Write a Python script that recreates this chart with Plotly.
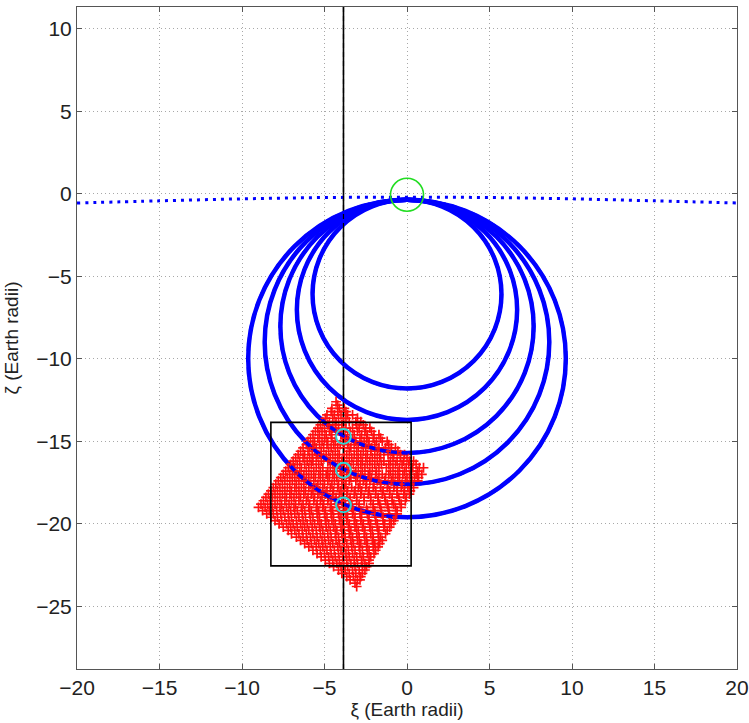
import plotly.graph_objects as go

# ---------------- data ----------------
# blue dotted horizon-like curve
horizon_x = [-20, -15, -10, -5, 0, 5, 10, 15, 20]
horizon_y = [-0.55, -0.42, -0.30, -0.22, -0.20, -0.22, -0.30, -0.42, -0.55]

# blue circles (centred on xi = 0): top and bottom zeta values
circle_top = [-0.35, -0.35, -0.35, -0.35, -0.35]
circle_bottom = [-11.8, -13.7, -15.7, -17.6, -19.6]

# vertical line position
vline_x = -3.85

# black box
box_x = [-8.25, 0.25]
box_y = [-22.55, -13.85]

# green circle
green_center = (0.0, -0.05)
green_radius = 1.0

# cyan circles
cyan_x = [-3.85, -3.85, -3.85]
cyan_y = [-14.7, -16.75, -18.85]
cyan_radius = 0.45

# red cloud, listed row by row (zeta, list of xi)
cloud_rows = [
    (-12.6, [-4.3]),
    (-12.8, [-4.2]),
    (-13.0, [-4.55, -4.1, -3.8]),
    (-13.2, [-4.6, -4.2, -3.7]),
    (-13.4, [-4.85, -4.4, -4.0, -3.6, -3.3]),
    (-13.6, [-4.95, -4.5, -4.15, -3.7, -3.0]),
    (-13.8, [-5.1, -4.7, -4.3, -3.85, -3.5, -3.1, -2.8]),
    (-14.0, [-5.25, -4.8, -4.35, -3.95, -3.05, -2.65]),
    (-14.2, [-5.4, -5.0, -4.5, -4.15, -3.7, -3.3, -2.9, -2.5, -2.25]),
    (-14.4, [-5.55, -5.15, -4.7, -4.3, -3.85, -3.45, -3.0, -2.55, -2.15]),
    (-14.6, [-5.7, -5.3, -4.9, -4.6, -4.0, -3.6, -3.2, -2.75, -2.4, -2.0, -1.7]),
    (-14.8, [-5.85, -5.4, -5.0, -4.55, -3.75, -3.3, -2.85, -2.45, -2.05, -1.6]),
    (-15.0, [-6.0, -5.6, -5.15, -4.8, -4.35, -3.9, -3.55, -3.1, -2.6, -2.3, -1.85, -1.5, -1.2]),
    (-15.2, [-6.1, -5.7, -5.3, -4.85, -4.45, -4.05, -3.6, -3.2, -2.75, -2.35, -1.95, -1.1]),
    (-15.4, [-6.3, -5.9, -5.5, -5.05, -4.6, -4.2, -3.8, -3.4, -2.95, -2.5, -2.15, -1.7, -1.3, -0.95, -0.7]),
    (-15.6, [-6.45, -6.0, -5.6, -5.2, -4.75, -4.35, -3.5, -3.05, -2.65, -2.2, -1.8, -1.4, -0.95, -0.55]),
    (-15.8, [-6.6, -6.2, -5.75, -5.4, -4.9, -4.5, -4.1, -3.65, -3.2, -2.8, -2.4, -1.95, -1.6, -1.15, -0.8, -0.4, -0.15]),
    (-16.0, [-6.75, -6.3, -5.9, -5.5, -5.05, -4.65, -4.2, -3.8, -3.35, -2.95, -2.5, -2.1, -1.65, -0.85, -0.4, 0.0]),
    (-16.2, [-6.9, -6.5, -6.05, -5.7, -5.2, -4.8, -4.35, -3.95, -3.5, -3.05, -2.7, -2.25, -1.8, -1.4, -1.0, -0.6, -0.2, 0.15, 0.4]),
    (-16.4, [-7.05, -6.65, -6.2, -5.8, -5.35, -4.5, -4.1, -3.65, -3.25, -2.8, -2.4, -1.95, -1.55, -1.1, -0.7, -0.3, 0.1, 0.55]),
    (-16.6, [-7.2, -6.8, -6.4, -5.95, -5.5, -5.1, -4.65, -4.25, -3.8, -3.4, -2.95, -2.55, -2.1, -1.7, -1.25, -0.85, -0.45, -0.05, 0.35, 0.75, 1.0]),
    (-16.8, [-7.35, -6.95, -6.5, -6.1, -5.65, -5.25, -4.8, -4.4, -3.95, -3.55, -3.1, -2.7, -2.25, -1.85, -1.0, -0.55, -0.15, 0.25, 0.65]),
    (-17.0, [-7.5, -7.1, -6.65, -6.25, -5.8, -5.35, -4.9, -4.5, -4.05, -3.65, -3.2, -2.8, -2.35, -1.9, -1.5, -1.1, -0.7, -0.25, 0.15, 0.55, 0.9]),
    (-17.2, [-7.65, -7.25, -6.8, -6.4, -5.95, -5.55, -5.1, -4.7, -4.25, -3.85, -3.4, -3.0, -2.55, -2.15, -1.7, -1.3, -0.85, -0.45, 0.0, 0.45, 0.7]),
    (-17.4, [-7.8, -7.4, -6.95, -6.55, -6.1, -5.65, -5.25, -4.8, -4.4, -3.95, -3.5, -3.1, -2.65, -2.25, -1.8, -1.35, -0.95, -0.55, -0.1, 0.3, 0.65]),
    (-17.6, [-7.95, -7.55, -7.1, -6.7, -6.25, -5.85, -5.4, -5.0, -4.55, -4.15, -3.7, -2.85, -2.45, -2.0, -1.6, -1.15, -0.75, -0.3, 0.15]),
    (-17.8, [-8.1, -7.7, -7.25, -6.8, -6.4, -5.95, -5.5, -5.1, -4.65, -4.2, -3.8, -3.35, -2.95, -2.5, -2.05, -1.6, -1.2, -0.8, -0.35, 0.05, 0.4]),
    (-18.0, [-8.25, -7.85, -7.4, -7.0, -6.55, -6.15, -5.7, -5.3, -4.85, -4.45, -4.0, -3.6, -3.15, -2.75, -2.3, -1.9, -1.45, -1.05, -0.6, -0.15, 0.2]),
    (-18.2, [-8.4, -8.0, -7.55, -7.1, -6.7, -6.25, -5.8, -5.4, -4.95, -4.5, -4.1, -3.65, -3.2, -2.8, -2.35, -1.9, -1.5, -1.05, -0.6, -0.2, 0.15]),
    (-18.4, [-8.55, -8.15, -7.7, -7.3, -6.85, -6.45, -6.0, -5.6, -5.15, -4.75, -4.3, -3.9, -3.45, -3.05, -2.6, -2.2, -1.75, -1.35, -0.9, -0.5, -0.05]),
    (-18.6, [-8.7, -8.3, -7.85, -7.4, -7.0, -6.55, -6.1, -5.65, -5.25, -4.8, -4.35, -3.95, -3.5, -3.05, -2.6, -2.2, -1.75, -1.3, -0.9, -0.45, -0.1]),
    (-18.8, [-8.85, -8.45, -8.0, -7.6, -7.15, -6.75, -6.3, -5.9, -5.45, -5.05, -4.6, -4.2, -3.75, -3.35, -2.9, -2.05, -1.65, -1.2, -0.8, -0.35]),
    (-19.0, [-9.0, -8.6, -8.15, -7.7, -7.3, -6.85, -6.4, -5.95, -5.5, -5.1, -4.65, -4.2, -3.8, -3.35, -2.9, -2.45, -2.05, -1.6, -1.15, -0.7, -0.35]),
    (-19.2, [-8.75, -8.35, -7.9, -7.5, -7.05, -6.65, -6.2, -5.8, -5.35, -4.95, -4.5, -4.1, -3.65, -3.25, -2.8, -2.4, -1.95, -1.55, -1.1, -0.6]),
    (-19.4, [-8.5, -8.1, -7.65, -7.2, -6.8, -6.35, -5.9, -5.45, -5.0, -4.6, -4.15, -3.7, -3.3, -2.85, -2.4, -1.95, -1.55, -1.1, -0.6]),
    (-19.6, [-8.25, -7.85, -7.4, -7.0, -6.55, -6.15, -5.7, -5.3, -4.85, -4.45, -4.0, -3.6, -3.15, -2.75, -2.3, -1.9, -1.45, -1.05, -0.7]),
    (-19.8, [-8.0, -7.6, -7.15, -6.7, -6.3, -5.85, -5.4, -4.95, -4.55, -4.1, -3.65, -3.2, -2.8, -2.35, -1.9, -1.45, -1.05, -0.8]),
    (-20.0, [-7.75, -7.3, -6.9, -6.45, -6.05, -5.6, -5.2, -4.75, -4.35, -3.9, -3.5, -3.05, -2.65, -2.2, -1.8, -1.35, -0.95]),
    (-20.2, [-7.5, -7.05, -6.65, -6.2, -5.75, -5.3, -4.9, -4.45, -4.0, -3.55, -3.15, -2.7, -2.25, -1.8, -1.4, -1.05]),
    (-20.4, [-7.2, -6.8, -6.35, -5.95, -5.5, -5.1, -4.65, -4.25, -3.8, -3.4, -2.95, -2.55, -2.1, -1.7, -1.2]),
    (-20.6, [-7.0, -6.55, -6.1, -5.7, -5.25, -4.8, -4.35, -3.95, -3.5, -3.05, -2.6, -2.2, -1.75, -1.3]),
    (-20.8, [-6.7, -6.3, -5.85, -5.45, -5.0, -4.6, -4.15, -3.75, -3.3, -2.9, -2.45, -2.05, -1.6]),
    (-21.0, [-6.45, -6.05, -5.6, -5.15, -4.75, -4.3, -3.85, -3.4, -3.0, -2.55, -2.1, -1.7, -1.5]),
    (-21.2, [-6.2, -5.8, -5.35, -4.95, -4.5, -4.1, -3.65, -3.25, -2.8, -2.4, -1.95, -1.65]),
    (-21.4, [-5.95, -5.5, -5.1, -4.65, -4.2, -3.8, -3.35, -2.9, -2.45, -2.05, -1.75]),
    (-21.6, [-5.7, -5.25, -4.85, -4.4, -4.0, -3.55, -3.15, -2.7, -2.3, -1.9]),
    (-21.8, [-5.45, -5.0, -4.6, -4.15, -3.7, -3.3, -2.85, -2.4, -2.0]),
    (-22.0, [-5.2, -4.75, -4.35, -3.9, -3.5, -3.05, -2.65, -2.2]),
    (-22.2, [-4.95, -4.5, -4.1, -3.65, -3.2, -2.75, -2.3]),
    (-22.4, [-4.7, -4.25, -3.85, -3.4, -3.0, -2.55, -2.3]),
    (-22.6, [-4.45, -4.0, -3.6, -3.15, -2.7, -2.45]),
    (-22.8, [-4.15, -3.75, -3.3, -2.9, -2.55]),
    (-23.0, [-3.95, -3.5, -3.1, -2.7]),
    (-23.2, [-3.65, -3.25, -2.8]),
    (-23.4, [-3.45, -3.0, -2.85]),
    (-23.6, [-3.15]),
    (-23.8, [-3.05]),
]

x_ticks = [-20, -15, -10, -5, 0, 5, 10, 15, 20]
y_ticks = [-25, -20, -15, -10, -5, 0, 5, 10]
x_range = [-20, 20]
y_range = [-28.8, 11.33]

# ---------------- figure ----------------
cloud_x = [x for zy, xs in cloud_rows for x in xs]
cloud_y = [zy for zy, xs in cloud_rows for _ in xs]

fig = go.Figure()

fig.add_trace(go.Scatter(
    x=horizon_x, y=horizon_y, mode="lines",
    line=dict(color="#0000ff", width=3, dash="3px,5px", shape="spline"),
    hoverinfo="skip", showlegend=False))

fig.add_trace(go.Scatter(
    x=cloud_x, y=cloud_y, mode="markers",
    marker=dict(symbol="cross-thin", size=7,
                line=dict(color="#ff1010", width=1.7), color="#ff1010"),
    hoverinfo="skip", showlegend=False))

shapes = []
for top, bot in zip(circle_top, circle_bottom):
    r = (top - bot) / 2.0
    # solid circle under the cloud
    shapes.append(dict(type="circle", xref="x", yref="y",
                       x0=-r, x1=r, y0=bot, y1=top,
                       line=dict(color="#0000ff", width=4.5), layer="between"))
    # broken overlay so the circle shows through the cloud
    shapes.append(dict(type="circle", xref="x", yref="y",
                       x0=-r, x1=r, y0=bot, y1=top,
                       line=dict(color="#0000ff", width=3.5, dash="6px,5px"),
                       layer="above"))

shapes.append(dict(type="line", xref="x", yref="paper",
                   x0=vline_x, x1=vline_x, y0=0, y1=1,
                   line=dict(color="#000000", width=1.6), layer="between"))
shapes.append(dict(type="line", xref="x", yref="paper",
                   x0=vline_x, x1=vline_x, y0=0, y1=1,
                   line=dict(color="#000000", width=1.2, dash="5px,4px"),
                   layer="above"))

shapes.append(dict(type="rect", xref="x", yref="y",
                   x0=box_x[0], x1=box_x[1], y0=box_y[0], y1=box_y[1],
                   line=dict(color="#000000", width=1.6), layer="above"))

gx, gy = green_center
shapes.append(dict(type="circle", xref="x", yref="y",
                   x0=gx - green_radius, x1=gx + green_radius,
                   y0=gy - green_radius, y1=gy + green_radius,
                   line=dict(color="#22dd22", width=1.6), layer="above"))

for cx, cy in zip(cyan_x, cyan_y):
    shapes.append(dict(type="circle", xref="x", yref="y",
                       x0=cx - cyan_radius, x1=cx + cyan_radius,
                       y0=cy - cyan_radius, y1=cy + cyan_radius,
                       line=dict(color="#2fd6d6", width=2), layer="above"))

axis_common = dict(
    showgrid=True, gridcolor="#a8a8a8", griddash="1px,3px", gridwidth=1,
    zeroline=False, showline=True, linecolor="#555555", linewidth=1,
    mirror="ticks", ticks="inside", ticklen=5, tickcolor="#555555",
    tickfont=dict(family="Liberation Sans, Arial", size=21, color="#222222"),
    automargin=False,
)

fig.update_layout(
    width=749, height=723,
    margin=dict(l=77, r=12, t=7, b=54),
    paper_bgcolor="white", plot_bgcolor="white",
    shapes=shapes,
    xaxis=dict(range=x_range, tickvals=x_ticks,
               title=dict(text="ξ (Earth radii)", standoff=0,
                          font=dict(family="Liberation Sans, Arial", size=19, color="#222222")),
               **axis_common),
    yaxis=dict(range=y_range, tickvals=y_ticks,
               title=dict(text="ζ (Earth radii)", standoff=12,
                          font=dict(family="Liberation Sans, Arial", size=19, color="#222222")),
               **axis_common),
)

fig.write_html("out.html")
